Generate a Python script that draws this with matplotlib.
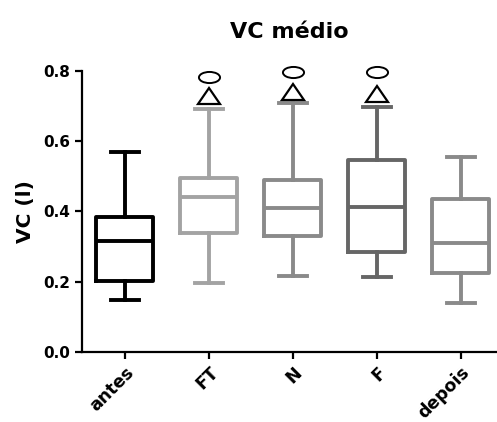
import matplotlib

matplotlib.use("Agg")
import matplotlib.pyplot as plt
from matplotlib.markers import MarkerStyle
from matplotlib.transforms import Affine2D

plt.rcParams["font.family"] = ["DejaVu Sans"]
plt.rcParams["font.weight"] = "bold"

# five-number summaries (min, Q1, median, Q3, max)
groups = ["antes", "FT", "N", "F", "depois"]
mins = [0.148, 0.196, 0.217, 0.212, 0.139]
q1s = [0.202, 0.338, 0.330, 0.284, 0.224]
medians = [0.316, 0.440, 0.409, 0.414, 0.309]
q3s = [0.385, 0.494, 0.490, 0.547, 0.435]
maxs = [0.570, 0.691, 0.708, 0.696, 0.554]
colors = ["#000000", "#a3a3a3", "#8a8a8a", "#666666", "#8a8a8a"]

# significance markers above groups
tri_idx = [1, 2, 3]
tri_y = [0.728, 0.740, 0.735]
circ_y = [0.783, 0.797, 0.797]

fig = plt.figure(figsize=(4.97, 4.22), dpi=100)
ax = fig.add_axes([0.165, 0.166, 0.835, 0.666])

stats_list = [dict(whislo=lo, q1=a, med=m, q3=b, whishi=hi, label=g)
              for g, lo, a, m, b, hi in zip(groups, mins, q1s, medians, q3s, maxs)]
for i, (st, col) in enumerate(zip(stats_list, colors)):
    lw = 2.8
    ax.bxp([st], positions=[i], widths=0.68, showfliers=False,
           boxprops=dict(color=col, lw=lw), medianprops=dict(color=col, lw=lw),
           whiskerprops=dict(color=col, lw=lw),
           capprops=dict(color=col, lw=lw), capwidths=0.34)

tri = MarkerStyle("^", transform=Affine2D().scale(1.0, 0.78))
ax.plot(tri_idx, tri_y, ls="none", marker=tri, ms=15.5, mfc="white",
        mec="black", mew=1.6, clip_on=False)
ell = MarkerStyle("o", transform=Affine2D().scale(1.9, 1.0))
ax.plot(tri_idx, circ_y, ls="none", marker=ell, ms=8, mfc="white",
        mec="black", mew=1.4, clip_on=False)

ax.set_xlim(-0.51, 4.43)
ax.set_ylim(0, 0.8)
ax.set_yticks([0.0, 0.2, 0.4, 0.6, 0.8])
ax.set_yticklabels(["0.0", "0.2", "0.4", "0.6", "0.8"])
ax.set_xticks(range(len(groups)))
ax.set_xticklabels(groups, rotation=45, ha="right", rotation_mode="anchor")
ax.tick_params(width=1.6, length=5)
ax.tick_params(axis="y", labelsize=11)
ax.tick_params(axis="x", labelsize=12.5)
for s in ["top", "right"]:
    ax.spines[s].set_visible(False)
for s in ["left", "bottom"]:
    ax.spines[s].set_linewidth(1.6)
ax.set_ylabel("VC (l)", fontsize=14.5, fontweight="bold", labelpad=6)
ax.set_title("VC médio", fontsize=16, fontweight="bold", pad=24)

fig.savefig("out.png", dpi=100)
